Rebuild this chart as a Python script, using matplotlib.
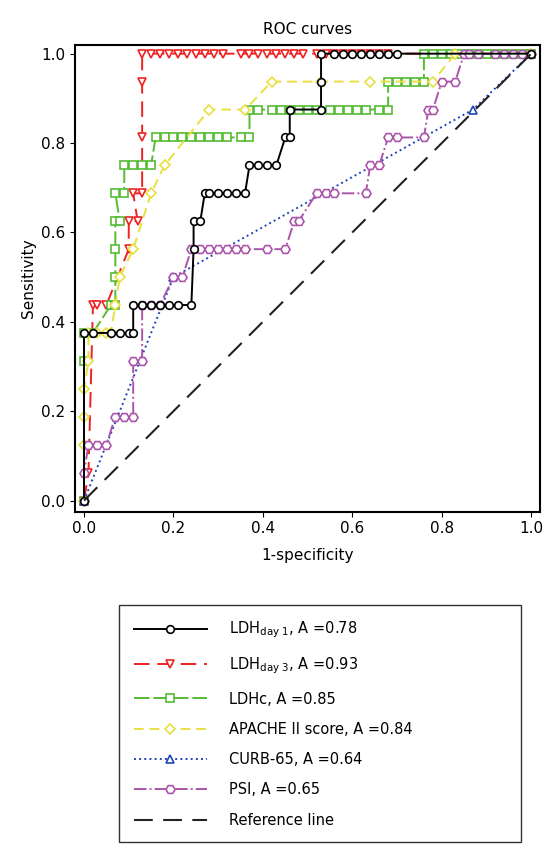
import matplotlib.pyplot as plt
import numpy as np

# ==== DATOS ====
ldh1_x = [0, 0, 0.02, 0.06, 0.08, 0.10, 0.11, 0.11, 0.13, 0.15, 0.17, 0.19, 0.21, 0.24, 0.245, 0.245, 0.26, 0.27, 0.28, 0.30, 0.32, 0.34, 0.36, 0.37, 0.39, 0.41, 0.43, 0.45, 0.46, 0.46, 0.53, 0.53, 0.53, 0.56, 0.58, 0.60, 0.62, 0.64, 0.66, 0.68, 0.70, 1.0]
ldh1_y = [0, 0.375, 0.375, 0.375, 0.375, 0.375, 0.375, 0.4375, 0.4375, 0.4375, 0.4375, 0.4375, 0.4375, 0.4375, 0.5625, 0.625, 0.625, 0.6875, 0.6875, 0.6875, 0.6875, 0.6875, 0.6875, 0.75, 0.75, 0.75, 0.75, 0.8125, 0.8125, 0.875, 0.875, 0.9375, 1.0, 1.0, 1.0, 1.0, 1.0, 1.0, 1.0, 1.0, 1.0, 1.0]
ldh3_x = [0, 0.01, 0.02, 0.03, 0.05, 0.10, 0.10, 0.12, 0.11, 0.13, 0.13, 0.13, 0.13, 0.15, 0.17, 0.19, 0.21, 0.23, 0.25, 0.27, 0.29, 0.31, 0.35, 0.37, 0.39, 0.41, 0.43, 0.45, 0.47, 0.49, 0.52, 0.54, 0.56, 0.58, 0.60, 0.62, 0.64, 0.66, 0.68, 1.0]
ldh3_y = [0, 0.0625, 0.4375, 0.4375, 0.4375, 0.5625, 0.625, 0.625, 0.6875, 0.6875, 0.8125, 0.9375, 1.0, 1.0, 1.0, 1.0, 1.0, 1.0, 1.0, 1.0, 1.0, 1.0, 1.0, 1.0, 1.0, 1.0, 1.0, 1.0, 1.0, 1.0, 1.0, 1.0, 1.0, 1.0, 1.0, 1.0, 1.0, 1.0, 1.0, 1.0]
ldhc_x = [0, 0, 0, 0.02, 0.06, 0.07, 0.07, 0.07, 0.07, 0.08, 0.07, 0.09, 0.09, 0.11, 0.13, 0.15, 0.16, 0.18, 0.20, 0.22, 0.24, 0.26, 0.28, 0.30, 0.32, 0.35, 0.37, 0.37, 0.39, 0.42, 0.44, 0.46, 0.48, 0.50, 0.52, 0.55, 0.57, 0.59, 0.61, 0.63, 0.66, 0.68, 0.68, 0.70, 0.72, 0.74, 0.76, 0.76, 0.78, 0.80, 0.82, 0.84, 0.86, 0.88, 0.90, 0.92, 0.94, 0.96, 0.98, 1.0]
ldhc_y = [0, 0.3125, 0.375, 0.375, 0.4375, 0.4375, 0.5, 0.5625, 0.625, 0.625, 0.6875, 0.6875, 0.75, 0.75, 0.75, 0.75, 0.8125, 0.8125, 0.8125, 0.8125, 0.8125, 0.8125, 0.8125, 0.8125, 0.8125, 0.8125, 0.8125, 0.875, 0.875, 0.875, 0.875, 0.875, 0.875, 0.875, 0.875, 0.875, 0.875, 0.875, 0.875, 0.875, 0.875, 0.875, 0.9375, 0.9375, 0.9375, 0.9375, 0.9375, 1.0, 1.0, 1.0, 1.0, 1.0, 1.0, 1.0, 1.0, 1.0, 1.0, 1.0, 1.0, 1.0]
apache_x = [0, 0, 0, 0, 0.01, 0.01, 0.03, 0.05, 0.06, 0.07, 0.08, 0.11, 0.15, 0.18, 0.28, 0.36, 0.42, 0.53, 0.64, 0.78, 0.83, 1.0]
apache_y = [0, 0.125, 0.1875, 0.25, 0.3125, 0.375, 0.375, 0.375, 0.375, 0.4375, 0.5, 0.5625, 0.6875, 0.75, 0.875, 0.875, 0.9375, 0.9375, 0.9375, 0.9375, 1.0, 1.0]
curb_x = [0, 0.2, 0.87, 1.0]
curb_y = [0, 0.5, 0.875, 1.0]
psi_x = [0, 0, 0.01, 0.03, 0.05, 0.07, 0.09, 0.11, 0.11, 0.13, 0.13, 0.15, 0.17, 0.20, 0.22, 0.24, 0.26, 0.28, 0.30, 0.32, 0.34, 0.36, 0.41, 0.45, 0.47, 0.48, 0.52, 0.54, 0.56, 0.63, 0.64, 0.66, 0.68, 0.70, 0.76, 0.77, 0.78, 0.80, 0.83, 0.85, 0.86, 0.88, 0.92, 0.94, 0.96, 0.98, 1.0]
psi_y = [0, 0.0625, 0.125, 0.125, 0.125, 0.1875, 0.1875, 0.1875, 0.3125, 0.3125, 0.4375, 0.4375, 0.4375, 0.5, 0.5, 0.5625, 0.5625, 0.5625, 0.5625, 0.5625, 0.5625, 0.5625, 0.5625, 0.5625, 0.625, 0.625, 0.6875, 0.6875, 0.6875, 0.6875, 0.75, 0.75, 0.8125, 0.8125, 0.8125, 0.875, 0.875, 0.9375, 0.9375, 1.0, 1.0, 1.0, 1.0, 1.0, 1.0, 1.0, 1.0]

labels = ['LDH$_{\\mathregular{day\\ 1}}$, A =0.78', 'LDH$_{\\mathregular{day\\ 3}}$, A =0.93',
          'LDHc, A =0.85', 'APACHE II score, A =0.84', 'CURB-65, A =0.64', 'PSI, A =0.65', 'Reference line']

fig = plt.figure(figsize=(5.44, 8.6), dpi=100)
ax = fig.add_axes([0.138, 0.405, 0.855, 0.543])

def curva(x, y, color, ls, marker, label, lw=1.4, ms=5.5):
    ax.plot(x, y, linestyle=ls, color=color, lw=lw, marker=marker, ms=ms,
            mfc='white', mec=color, mew=1.2, label=label)

curva(ldh3_x, ldh3_y, '#ee2222', (0, (8, 4)), 'v', labels[1])
curva(ldhc_x, ldhc_y, '#55bb33', (0, (8, 2)), 's', labels[2])
curva(apache_x, apache_y, '#e8e040', (0, (5, 3)), 'D', labels[3], ms=5)
curva(curb_x, curb_y, '#2244bb', ':', '^', labels[4])
curva(psi_x, psi_y, '#aa55aa', '-.', 'H', labels[5], ms=6.5)
curva(ldh1_x, ldh1_y, 'black', '-', 'o', labels[0])
ax.plot([0, 1], [0, 1], color='#222222', lw=1.5, ls=(0, (9, 5)), label=labels[6])

ax.set_xlim(-0.02, 1.02)
ax.set_ylim(-0.025, 1.02)
ax.set_xticks(np.arange(0, 1.01, 0.2))
ax.set_yticks(np.arange(0, 1.01, 0.2))
ax.set_xticklabels(['0.0', '0.2', '0.4', '0.6', '0.8', '1.0'], fontsize=11)
ax.set_yticklabels(['0.0', '0.2', '0.4', '0.6', '0.8', '1.0'], fontsize=11)
ax.set_xlabel('1-specificity', fontsize=11, labelpad=8)
ax.set_ylabel('Sensitivity', fontsize=11)
ax.set_title('ROC curves', fontsize=11, pad=8)
for s in ax.spines.values():
    s.set_linewidth(1.5)

handles, labs = ax.get_legend_handles_labels()
order = [labs.index(l) for l in labels]
fig.legend([handles[i] for i in order], [labs[i] for i in order],
           loc='lower left', bbox_to_anchor=(0.206, 0.012, 0.765, 0.284), mode='expand',
           fontsize=10.5, frameon=True, fancybox=False, edgecolor='black', handlelength=5,
           labelspacing=1.05, borderpad=1.0, handletextpad=1.5, markerscale=1.0)

fig.savefig('out.png', dpi=100)
